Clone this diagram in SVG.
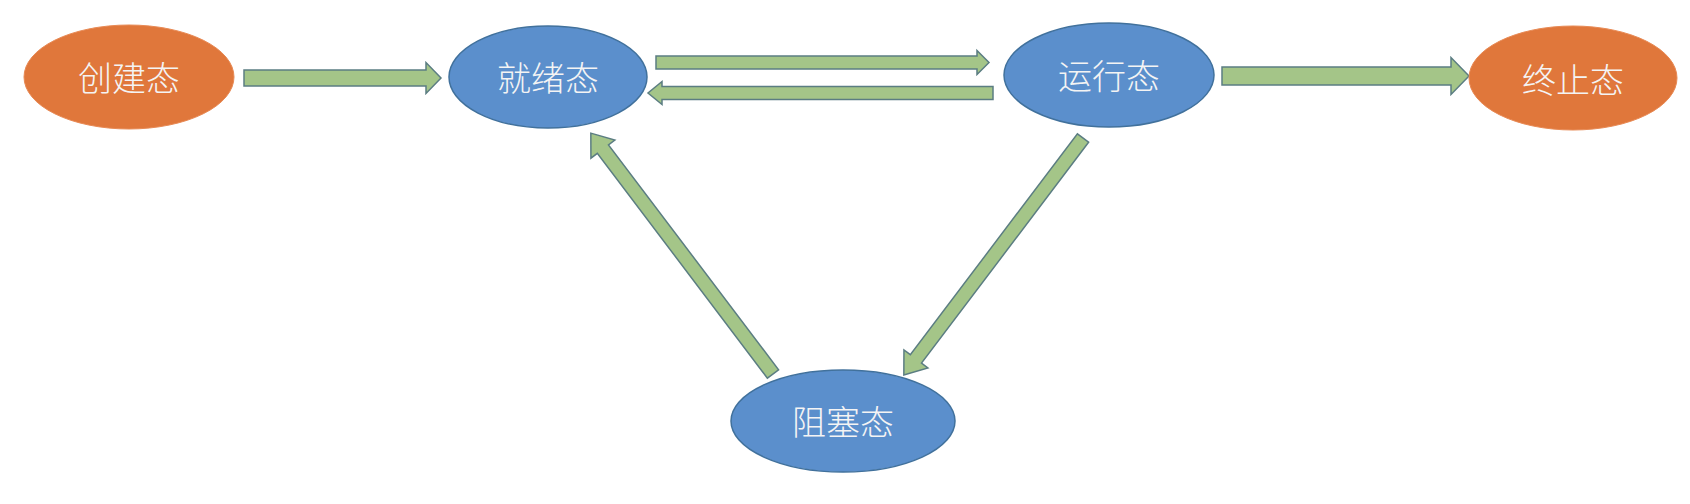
<svg xmlns="http://www.w3.org/2000/svg" width="1690" height="504" viewBox="0 0 1690 504">
<style>
.orange{fill:#e0773b;stroke:#e88a55;stroke-width:1}
.blue{fill:#5b8fcc;stroke:#41719c;stroke-width:1.5}
.lbl{font-family:"Noto Sans CJK SC","Noto Sans",sans-serif;font-size:34px;font-weight:300;fill:#f4f4f4;text-anchor:middle;dominant-baseline:central}
.arr{fill:#a4c588;stroke:#5b7d82;stroke-width:1.5;stroke-linejoin:miter}
</style>
<rect width="1690" height="504" fill="#ffffff"/>
<g id="connectors">
<path class="arr" d="M244,70 L426,70 L426,62.5 L441,78 L426,93.5 L426,86 L244,86 Z"/>
<path class="arr" d="M656,56 L977,56 L977,50.5 L989,62.5 L977,74.5 L977,69 L656,69 Z"/>
<path class="arr" d="M993,86.5 L662,86.5 L662,81.5 L648,93 L662,104.5 L662,99.5 L993,99.5 Z"/>
<path class="arr" d="M1222,67 L1451,67 L1451,57.5 L1469,76 L1451,94.5 L1451,85 L1222,85 Z"/>
<g transform="translate(773,374) rotate(-127.1)">
<path class="arr" d="M0,-7 L282,-7 L282,-15 L302,0 L282,15 L282,7 L0,7 Z"/>
</g>
<g transform="translate(1083,138) rotate(127.1)">
<path class="arr" d="M0,-7 L277,-7 L277,-15 L297,0 L277,15 L277,7 L0,7 Z"/>
</g>
</g>
<g id="node-create">
<ellipse class="orange" cx="129" cy="77" rx="105" ry="52"/>
<text class="lbl" x="129" y="76">创建态</text>
</g>
<g id="node-ready">
<ellipse class="blue" cx="548" cy="77" rx="99" ry="51"/>
<text class="lbl" x="548" y="76">就绪态</text>
</g>
<g id="node-running">
<ellipse class="blue" cx="1109" cy="75" rx="105" ry="52"/>
<text class="lbl" x="1109" y="74">运行态</text>
</g>
<g id="node-terminated">
<ellipse class="orange" cx="1573" cy="78" rx="104" ry="52"/>
<text class="lbl" x="1573" y="78">终止态</text>
</g>
<g id="node-blocked">
<ellipse class="blue" cx="843" cy="421" rx="112" ry="51"/>
<text class="lbl" x="843" y="420">阻塞态</text>
</g>
</svg>
